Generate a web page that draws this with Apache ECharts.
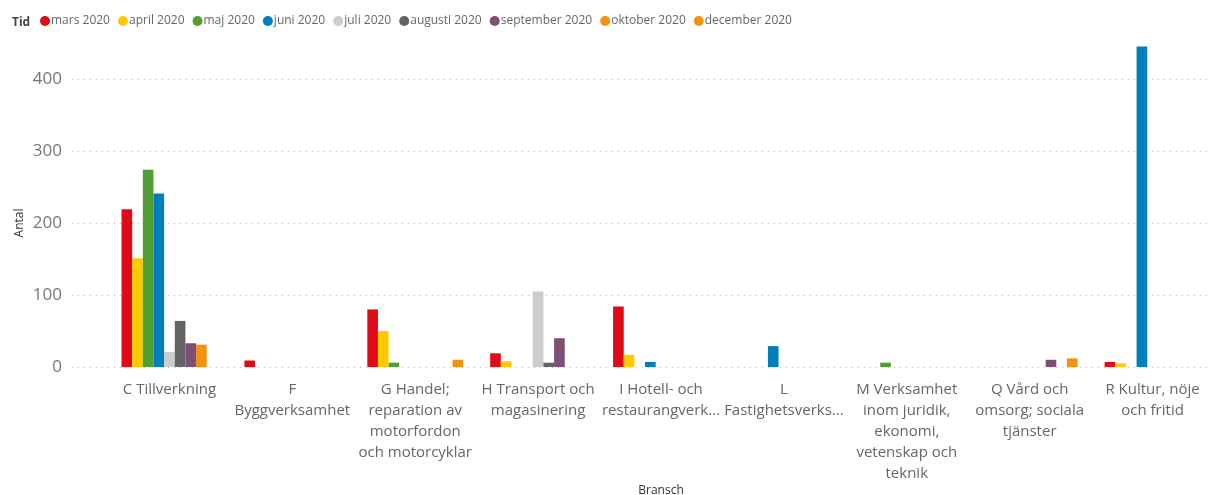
<!DOCTYPE html>
<html>
<head>
<meta charset="UTF-8">
<title>Antal per bransch</title>
<script src="https://cdn.jsdelivr.net/npm/echarts@6/dist/echarts.min.js"></script>
<style>
  html, body { margin: 0; padding: 0; background: #fff; }
  #chart { width: 1208px; height: 495px; }
</style>
</head>
<body>
<div id="chart"></div>
<script>
// kategorier (bransch), som de visas på axeln
var categories = [
    'C Tillverkning',
    'F\nByggverksamhet',
    'G Handel;\nreparation av\nmotorfordon\noch motorcyklar',
    'H Transport och\nmagasinering',
    'I Hotell- och\nrestaurangverk...',
    'L\nFastighetsverks...',
    'M Verksamhet\ninom juridik,\nekonomi,\nvetenskap och\nteknik',
    'Q Vård och\nomsorg; sociala\ntjänster',
    'R Kultur, nöje\noch fritid'
];
var months = ['mars 2020', 'april 2020', 'maj 2020', 'juni 2020', 'juli 2020',
    'augusti 2020', 'september 2020', 'oktober 2020', 'december 2020'];
var colors = ['#DE0A18', '#FFCB00', '#529E34', '#0080BA', '#CCCCCC',
    '#646464', '#7F5075', '#F39110', '#F39110'];
var yTicks = [0, 100, 200, 300, 400];

// värden per månad, en post per bransch (null = ingen stapel)
var mars      = [219, 9, 80, 19, 84, null, null, null, 7];
var april     = [151, null, 50, 8, 17, null, null, null, 5];
var maj       = [274, null, 6, null, null, null, 6, null, null];
var juni      = [241, null, null, null, 7, 29, null, null, 445];
var juli      = [21, null, null, 105, null, null, null, null, null];
var augusti   = [64, null, null, 6, null, null, null, null, null];
var september = [33, null, null, 40, null, null, null, 10, null];
var oktober   = [31, null, null, null, null, null, null, null, null];
var december  = [null, null, 10, null, null, null, null, 12, null];
var values = [mars, april, maj, juni, juli, augusti, september, oktober, december];

var font = '"Open Sans", "Noto Sans", sans-serif';
var myChart = echarts.init(document.getElementById('chart'));

var series = [];
for (var i = 0; i < months.length; i++) {
    series.push({
        name: months[i],
        type: 'bar',
        xAxisIndex: 1,
        yAxisIndex: 1,
        barGap: '0%',
        barCategoryGap: '22%',
        clip: false,
        itemStyle: { color: colors[i] },
        data: values[i]
    });
}

var option = {
    animation: false,
    textStyle: { fontFamily: font },
    title: {
        text: 'Tid',
        left: 7,
        top: 10,
        textStyle: { fontSize: 12, lineHeight: 16, fontWeight: 'bold', color: '#444', fontFamily: font }
    },
    legend: {
        data: months,
        left: 35,
        top: 10,
        icon: 'circle',
        itemWidth: 10,
        itemHeight: 10,
        itemGap: 8,
        textStyle: { fontSize: 12, color: '#666', fontFamily: font, padding: [0, 0, 0, -4] }
    },
    grid: [
        // rutnät för y-axeln och de prickade linjerna
        { left: 72, right: 0, top: 79, height: 288, containLabel: false, outerBoundsMode: 'none' },
        // staplarna
        { left: 108, width: 1106, top: 79, height: 288, containLabel: false, outerBoundsMode: 'none' }
    ],
    xAxis: [
        { gridIndex: 0, type: 'value', show: false, min: 0, max: 1 },
        {
            gridIndex: 1,
            type: 'category',
            data: categories,
            name: 'Bransch',
            nameLocation: 'middle',
            nameGap: 118,
            nameMoveOverlap: false,
            nameTextStyle: { fontSize: 12, color: '#333', fontFamily: font },
            axisLine: { show: false },
            axisTick: { show: false },
            axisLabel: {
                interval: 0,
                margin: 12,
                fontSize: 15,
                lineHeight: 21,
                color: '#666',
                fontFamily: font
            }
        }
    ],
    yAxis: [
        {
            gridIndex: 0,
            type: 'value',
            min: yTicks[0],
            max: yTicks[yTicks.length - 1],
            interval: 100,
            name: 'Antal',
            nameLocation: 'middle',
            nameGap: 46,
            nameMoveOverlap: false,
            nameTextStyle: { fontSize: 12, color: '#333', fontFamily: font },
            axisLine: { show: false },
            axisTick: { show: false },
            axisLabel: { margin: 10, fontSize: 17, color: '#777', fontFamily: font },
            splitLine: { lineStyle: { type: [1, 5], color: '#bbb', width: 1 } }
        },
        {
            gridIndex: 1,
            type: 'value',
            min: yTicks[0],
            max: yTicks[yTicks.length - 1],
            show: false,
            splitLine: { show: false }
        }
    ],
    series: series
};
myChart.setOption(option);
</script>
</body>
</html>
